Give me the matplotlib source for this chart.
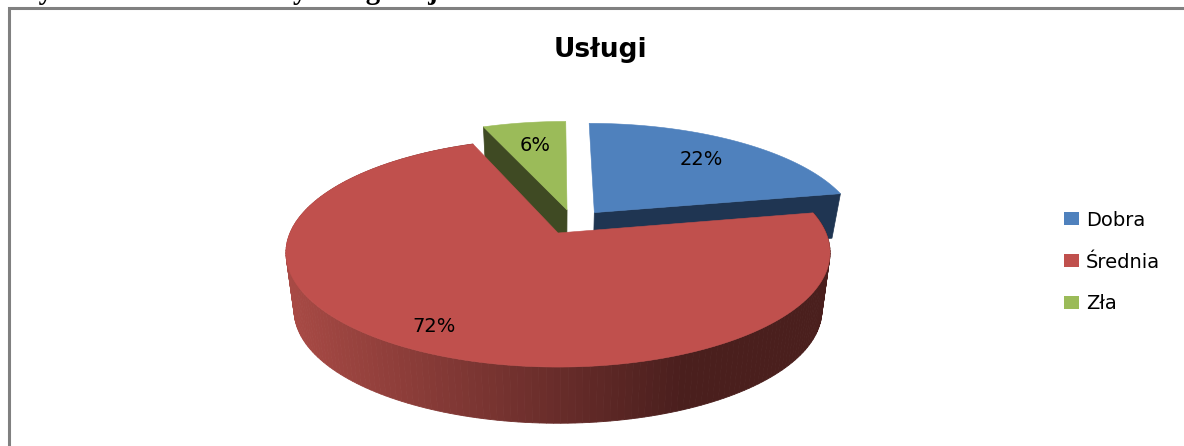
# -*- coding: utf-8 -*-
# Exploded 3D pie, drawn with polygons on a pixel-sized axes
from matplotlib import pyplot as plt
from matplotlib.patches import Patch
import numpy as np

# data
categories = ["Dobra", "Średnia", "Zła"]
values = [22, 72, 6]

# colours and layout
face_colors = ["#4f81bd", "#c0504d", "#9bbb59"]
wall_colors = ["#1f3552", "#c0504d", "#3f4a23"]
explode_u = [0.14, 0.0, 0.035]
explode_v = [0.19, 0.0, 0.215]
label_radius = [0.73, 0.84, 0.71]
wall_depth = [44, 58, 44]

# projection of the pie plane to the picture
cx, cy = 558, 233
A, B, k = 268, 111, 0.172
B_low = 109.5
shrink = 0.97


def project(u, v):
    d = 1 + k * v
    return cx + A * u / d, cy - B * v / d


def project_low(u, v, i):
    d = 1 + k * v
    return cx + A * shrink * u / d, cy + wall_depth[i] - B_low * v / d


def wedge(a0, a1, i):
    t = np.radians(np.linspace(a0, a1, 200))
    return explode_u[i] + np.sin(t), explode_v[i] + np.cos(t)


fig = plt.figure(figsize=(11.84, 4.46), dpi=100)
ax = fig.add_axes([0, 0, 1, 1])
ax.set_xlim(0, 1184)
ax.set_ylim(446, 0)
ax.axis("off")

# frame and the clipped caption above it
ax.plot([8.7, 8.7, 1184], [446, 8, 8], color="#808080", lw=2.2, solid_joinstyle="miter")
ax.text(11, -1, "Wykres 4.  Ocena oferty usługowej", family="Liberation Serif",
        weight="bold", size=20.7, va="baseline", ha="left", clip_on=False)

bounds = np.cumsum([0] + values) * 3.6

# back slices first, the big one goes on top
for i in [2, 0, 1]:
    u, v = wedge(bounds[i], bounds[i + 1], i)
    u0, v0 = explode_u[i], explode_v[i]
    if i == 1:
        # round side with a dark gradient left to right
        for j in range(len(u) - 1):
            x1, y1 = project(u[j], v[j])
            x2, y2 = project(u[j + 1], v[j + 1])
            x3, y3 = project_low(u[j + 1], v[j + 1], i)
            x4, y4 = project_low(u[j], v[j], i)
            f = np.clip(((x1 + x2) / 2 - 285) / 400, 0, 1)
            col = np.array([0.66, 0.29, 0.27]) * (1 - f) + np.array([0.29, 0.12, 0.115]) * f
            ax.fill([x1, x2, x3, x4], [y1, y2, y3, y4], color=col, lw=0.6)
    else:
        # straight cut side seen from the front
        a = np.radians(bounds[1] if i == 0 else bounds[2])
        s, c = np.sin(a), np.cos(a)
        pts = [project(u0, v0), project(u0 + s, v0 + c),
               project_low(u0 + s, v0 + c, i), project_low(u0, v0, i)]
        ax.fill(*zip(*pts), color=wall_colors[i], lw=0.5)
    xs, ys = project(u, v)
    x0, y0 = project(u0, v0)
    ax.fill(np.r_[x0, xs], np.r_[y0, ys], color=face_colors[i], lw=0.4)

# percent labels
for i in range(len(values)):
    mid = np.radians((bounds[i] + bounds[i + 1]) / 2)
    lu = explode_u[i] + label_radius[i] * np.sin(mid)
    lv = explode_v[i] + label_radius[i] * np.cos(mid)
    lx, ly = project(lu, lv)
    ax.text(lx, ly, "%d%%" % values[i], size=14, ha="center", va="center", color="black")

ax.text(600, 50, "Usługi", size=19, weight="bold", ha="center", va="center")

handles = [Patch(facecolor=c, label=n) for c, n in zip(face_colors, categories)]
ax.legend(handles=handles, loc="center left", bbox_to_anchor=(1064 / 1184, 1 - 262 / 446),
          frameon=False, fontsize=14, borderaxespad=0, borderpad=0, handlelength=0.78,
          handleheight=0.62, handletextpad=0.36, labelspacing=1.18)

plt.savefig("out.png", dpi=100)
